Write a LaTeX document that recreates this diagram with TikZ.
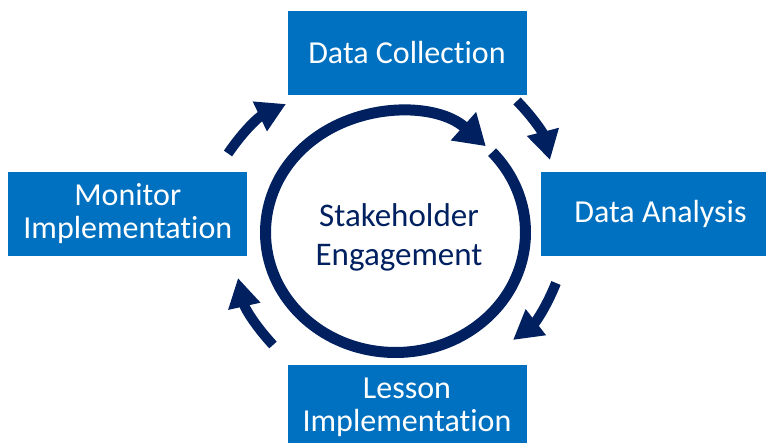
\documentclass[tikz,border=0pt]{standalone}
\usepackage{fontspec}
\setmainfont[Ligatures=NoCommon]{Carlito}
\usetikzlibrary{arrows.meta,positioning}
\definecolor{boxblue}{RGB}{0,112,192}
\definecolor{navy}{RGB}{0,32,96}

\begin{document}
\begin{tikzpicture}[x=1pt,y=1pt,
    stage/.style={rectangle,fill=boxblue,text=white,minimum width=239pt,
      minimum height=84pt,inner sep=0pt,align=center,
      font=\fontsize{32}{33}\selectfont},
    flow/.style={navy,line width=10pt,-{Triangle[length=29pt,width=31pt]}},
    ring/.style={navy,line width=11pt,-{Triangle[length=30pt,width=36pt]}}]
        \useasboundingbox (0,0) rectangle (766,443);
        \clip (0,0) rectangle (766,443);
        \node[stage] (dc) at (407,390) {Data Collection};
        \node[stage] (da) at (660.5,229) {Data Analysis};
        \node[stage] (li) at (407,36) {Lesson\\Implementation};
        \node[stage] (mi) at (127.8,229) {Monitor\\Implementation};
        \coordinate (ctr) at (395.5,210.5);
        \draw[ring] (ctr) ++(42:130 and 120)
            arc[start angle=42,end angle=-314,x radius=130,y radius=120];
        \node[text=navy,align=center,font=\fontsize{33}{39}\selectfont] (se)
            at (399,206) {Stakeholder\\Engagement};
        \coordinate (t1) at (228,289.5); \coordinate (h1) at (286,339);
        \coordinate (t2) at (517,342);   \coordinate (h2) at (550,283);
        \coordinate (t3) at (556,160);   \coordinate (h3) at (513,103);
        \coordinate (t4) at (273,98);    \coordinate (h4) at (238,165);
        \path[flow]
        (t1) edge [bend left=15] (h1)
        (t2) edge [bend left=15] (h2)
        (t3) edge [bend left=15] (h3)
        (t4) edge [bend left=15] (h4);
    \end{tikzpicture}
\end{document}
